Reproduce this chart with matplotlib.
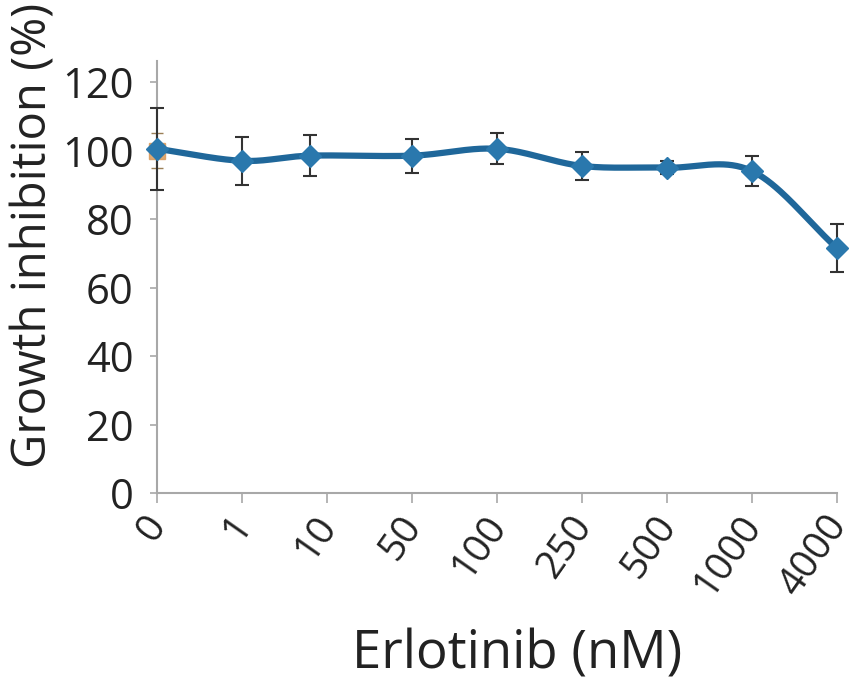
import matplotlib
matplotlib.use('Agg')
import matplotlib.pyplot as plt
import matplotlib.transforms as mtransforms
import numpy as np

# erlotinib dose series
doses = ["0", "1", "10", "50", "100", "250", "500", "1000", "4000"]
dose_pos = [0, 1, 1.8, 3, 4, 5, 6, 7, 8]
inhibition = [100.5, 97.0, 98.5, 98.5, 100.5, 95.5, 95.0, 94.0, 71.5]
inhibition_err = [12.0, 7.0, 6.0, 5.0, 4.5, 4.0, 2.0, 4.3, 7.0]

# control well drawn under the first point
control = [100.0]
control_err = [5.0]

plt.rcParams['font.family'] = ['Open Sans', 'DejaVu Sans']


def smooth(x, y, n=40):
    # catmull-rom through the points, like a spreadsheet "smoothed line"
    x = np.asarray(x, float)
    y = np.asarray(y, float)
    px = np.concatenate([[2 * x[0] - x[1]], x, [2 * x[-1] - x[-2]]])
    py = np.concatenate([[2 * y[0] - y[1]], y, [2 * y[-1] - y[-2]]])
    xs, ys = [], []
    t = np.linspace(0, 1, n)
    for i in range(1, len(px) - 2):
        for p, out in ((px, xs), (py, ys)):
            p0, p1, p2, p3 = p[i - 1], p[i], p[i + 1], p[i + 2]
            out.append(0.5 * ((2 * p1) + (-p0 + p2) * t
                              + (2 * p0 - 5 * p1 + 4 * p2 - p3) * t ** 2
                              + (-p0 + 3 * p1 - 3 * p2 + p3) * t ** 3))
    return np.concatenate(xs), np.concatenate(ys)


fig = plt.figure(figsize=(8.55, 6.9), dpi=100)
ax = fig.add_axes([0.1836, 0.2855, 0.7953, 0.6254])

ax.errorbar([0], control, yerr=control_err, fmt='s', color='#d99a5a',
            ecolor='#8a6a3a', markersize=11, capsize=4, elinewidth=1.5,
            clip_on=False, zorder=2, alpha=0.85)

sx, sy = smooth(dose_pos, inhibition)
ax.plot(sx, sy, color='#1f679a', linewidth=4.5, solid_capstyle='round',
        clip_on=False, zorder=3)
ax.errorbar(dose_pos, inhibition, yerr=inhibition_err, fmt='none',
            ecolor='#333333', elinewidth=1.5, capsize=5, capthick=1.5,
            clip_on=False, zorder=4)
ax.plot(dose_pos, inhibition, linestyle='none', marker='D', markersize=11,
        color='#2a78ad', clip_on=False, zorder=5)

ax.set_xlim(0, 8)
ax.set_ylim(0, 126)
ax.set_yticks([0, 20, 40, 60, 80, 100, 120])
ax.set_xticks(range(len(doses)))
ax.set_xticklabels(doses, rotation=55, ha='right', va='center',
                   rotation_mode='anchor')

for side in ['top', 'right']:
    ax.spines[side].set_visible(False)
for side in ['left', 'bottom']:
    ax.spines[side].set_color('#a8a8a8')
    ax.spines[side].set_linewidth(1.5)

ax.tick_params(axis='y', labelsize=30, length=5, width=1.2, color='#a8a8a8',
               pad=12, labelcolor='#222222')
ax.tick_params(axis='x', labelsize=28, length=7, width=1.2, color='#a8a8a8',
               pad=12, labelcolor='#222222')

# nudge the slanted labels so they sit under their ticks
shift = mtransforms.ScaledTranslation(0.02, 0, fig.dpi_scale_trans)
for lbl in ax.get_xticklabels():
    lbl.set_transform(lbl.get_transform() + shift)

ax.set_ylabel('Growth inhibition (%)', fontsize=34, color='#222222')
ax.yaxis.set_label_coords(-0.147, 0.598)
ax.set_xlabel('Erlotinib (nM)', fontsize=38, color='#222222')
ax.xaxis.set_label_coords(0.53, -0.313)

fig.savefig('out.png', dpi=100)
